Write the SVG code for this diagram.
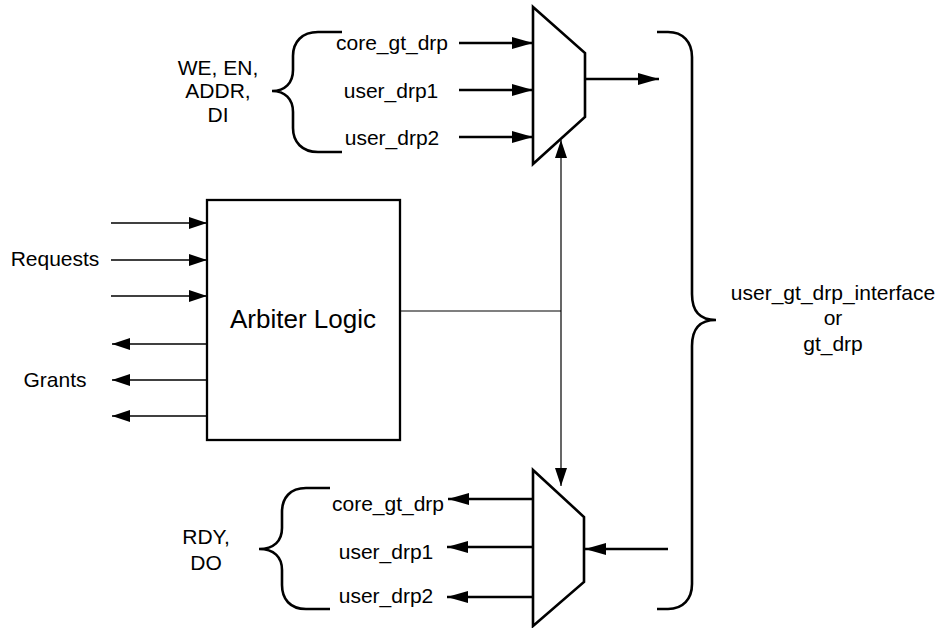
<svg xmlns="http://www.w3.org/2000/svg" width="941" height="628" viewBox="0 0 941 628">
<style>
text{font-family:"Liberation Sans",Arial,sans-serif;font-size:21px;fill:#000;text-anchor:middle}
.thick{stroke:#000;stroke-width:2.6;fill:none}
.med{stroke:#000;stroke-width:1.5;fill:none}
.thin{stroke:#000;stroke-width:1.2;fill:none}
.shape{stroke:#000;stroke-width:2.6;fill:#fff;stroke-linejoin:miter}
</style>
<defs>
<marker id="ahb" viewBox="0 0 21 12" refX="21" refY="6" markerWidth="21" markerHeight="12" markerUnits="userSpaceOnUse" orient="auto"><path d="M0,0 L21,6 L0,12 z" fill="#000"/></marker>
<marker id="ahs" viewBox="0 0 18 12" refX="18" refY="6" markerWidth="18" markerHeight="12" markerUnits="userSpaceOnUse" orient="auto"><path d="M0,0 L18,6 L0,12 z" fill="#000"/></marker>
</defs>
<rect width="941" height="628" fill="#fff"/>

<g id="connectors">
<line class="thick" x1="459" y1="43" x2="533" y2="43" marker-end="url(#ahb)"/>
<line class="thick" x1="459" y1="90" x2="533" y2="90" marker-end="url(#ahb)"/>
<line class="thick" x1="459" y1="137" x2="533" y2="137" marker-end="url(#ahb)"/>
<line class="thick" x1="585" y1="79" x2="659" y2="79" marker-end="url(#ahb)"/>
<line class="med" x1="111" y1="223" x2="207" y2="223" marker-end="url(#ahs)"/>
<line class="med" x1="111" y1="260" x2="207" y2="260" marker-end="url(#ahs)"/>
<line class="med" x1="111" y1="296" x2="207" y2="296" marker-end="url(#ahs)"/>
<line class="med" x1="207" y1="344" x2="112" y2="344" marker-end="url(#ahs)"/>
<line class="med" x1="207" y1="380" x2="112" y2="380" marker-end="url(#ahs)"/>
<line class="med" x1="207" y1="416" x2="112" y2="416" marker-end="url(#ahs)"/>
<line class="thin" x1="400" y1="311" x2="561" y2="311"/>
<line class="thin" x1="561" y1="311" x2="561" y2="140" marker-end="url(#ahs)"/>
<line class="thin" x1="561" y1="311" x2="561" y2="486" marker-end="url(#ahs)"/>
<line class="thick" x1="533" y1="499" x2="448" y2="499" marker-end="url(#ahb)"/>
<line class="thick" x1="533" y1="547" x2="447" y2="547" marker-end="url(#ahb)"/>
<line class="thick" x1="533" y1="597" x2="447" y2="597" marker-end="url(#ahb)"/>
<line class="thick" x1="668" y1="549" x2="585" y2="549" marker-end="url(#ahb)"/>
</g>

<g id="mux_top">
<polygon class="shape" points="533,7 585,53 585,117 533,164"/>
</g>
<g id="mux_bottom">
<polygon class="shape" points="533,470 584,517 584,582 533,626"/>
</g>
<g id="arbiter">
<rect x="207" y="200" width="193" height="240" fill="#fff" stroke="#000" stroke-width="2.3"/>
<text x="303" y="328" style="font-size:26px">Arbiter Logic</text>
</g>

<g id="brace_top">
<path class="thick" d="M342,32 H318 C302,32 293,42 293,56 V70 C293,83 285,91 272,91 C285,91 293,99 293,112 V128 C293,142 302,152 318,152 H342"/>
<text x="218" y="75">WE, EN,</text>
<text x="218" y="98">ADDR,</text>
<text x="218" y="122">DI</text>
</g>
<g id="brace_bottom">
<path class="thick" d="M330,488 H306 C290,488 282,498 282,512 V528 C282,541 274,549 259,549 C274,549 282,557 282,570 V585 C282,599 290,609 306,609 H330"/>
<text x="206" y="544">RDY,</text>
<text x="206" y="570">DO</text>
</g>
<g id="brace_right">
<path class="thick" d="M657,32 H668 C683,32 692,42 692,57 V294 C692,312 700,320 716,320 C700,320 692,328 692,346 V584 C692,599 683,609 668,609 H657"/>
<text x="833" y="300">user_gt_drp_interface</text>
<text x="833" y="325">or</text>
<text x="833" y="351">gt_drp</text>
</g>

<g id="labels_top">
<text x="392" y="50">core_gt_drp</text>
<text x="391" y="98">user_drp1</text>
<text x="392" y="145">user_drp2</text>
</g>
<g id="labels_bottom">
<text x="388" y="511">core_gt_drp</text>
<text x="386" y="559">user_drp1</text>
<text x="386" y="603">user_drp2</text>
</g>
<g id="labels_arbiter">
<text x="55" y="266">Requests</text>
<text x="55" y="387">Grants</text>
</g>
</svg>
